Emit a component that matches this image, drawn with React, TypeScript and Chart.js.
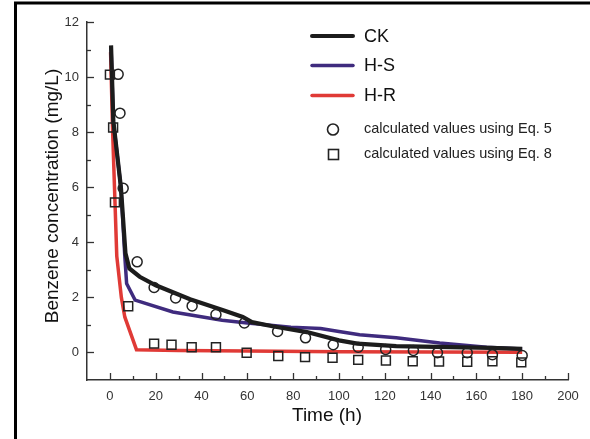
import React, { useEffect, useRef } from "react";
import { Chart, registerables } from "chart.js";

Chart.register(...registerables);

// ---- data ----
const ckTime = [0.5, 1.5, 4.8, 6.8, 8.5, 13, 20, 35, 49.5, 58, 62, 71, 86, 100, 108, 125, 166, 180];
const ckConc = [11.15, 8.4, 6.0, 3.6, 3.05, 2.75, 2.44, 1.93, 1.53, 1.29, 1.1, 0.95, 0.74, 0.44, 0.32, 0.23, 0.17, 0.13];

const hsTime = [0.5, 1.5, 4.8, 6.5, 7.3, 11, 27.5, 49, 60, 79, 92, 100, 109, 125, 144, 164.5, 180];
const hsConc = [11.1, 8.4, 6.0, 3.5, 2.5, 1.9, 1.47, 1.17, 1.07, 0.92, 0.87, 0.76, 0.64, 0.53, 0.34, 0.19, 0.13];

const hrTime = [0.3, 1.2, 2.2, 3.0, 5.0, 6.5, 11.6, 30, 60, 100, 180];
const hrConc = [10.9, 8.0, 5.5, 3.5, 2.0, 1.29, 0.1, 0.07, 0.05, 0.03, 0.01];

const eq5Time = [3.6, 4.4, 5.8, 11.9, 19.3, 28.7, 35.9, 46.3, 58.7, 73.2, 85.4, 97.5, 108.4, 120.4, 132.5, 143, 156, 167, 180];
const eq5Conc = [10.1, 8.69, 5.96, 3.29, 2.36, 1.98, 1.69, 1.38, 1.07, 0.76, 0.53, 0.28, 0.19, 0.11, 0.07, -0.01, -0.01, -0.08, -0.11];

const eq8Time = [0, 1.4, 2.2, 8, 19.3, 26.9, 35.7, 46.3, 59.7, 73.5, 85.2, 97.2, 108.4, 120.5, 132.2, 143.7, 156, 167, 179.6];
const eq8Conc = [10.09, 8.17, 5.45, 1.68, 0.32, 0.28, 0.19, 0.19, -0.01, -0.13, -0.17, -0.19, -0.27, -0.29, -0.32, -0.33, -0.34, -0.32, -0.36];

const xTicks = [0, 20, 40, 60, 80, 100, 120, 140, 160, 180, 200];
const xMinorTicks = [10, 30, 50, 70, 90, 110, 130, 150, 170, 190];
const yTicks = [0, 2, 4, 6, 8, 10, 12];
const yMinorTicks = [1, 3, 5, 7, 9, 11];

const legendLabels = ["CK", "H-S", "H-R", "calculated values using Eq. 5", "calculated values using Eq. 8"];

const BLACK = "#1c1c1c";
const PURPLE = "#3f2b7e";
const RED = "#e03a36";
const AXIS = "#333333";
const FONT = "'Liberation Sans', Arial, sans-serif";

const pts = (xs: number[], ys: number[]) => xs.map((x, i) => ({ x, y: ys[i] }));

const decorPlugin = {
  id: "decor",
  afterDraw(chart: any) {
    const ctx = chart.ctx as CanvasRenderingContext2D;
    const xs = chart.scales.x;
    const ys = chart.scales.y;
    const area = chart.chartArea;
    ctx.save();
    // inward ticks
    ctx.strokeStyle = AXIS;
    ctx.lineWidth = 1.3;
    const tickX = (v: number, len: number) => {
      const p = Math.round(xs.getPixelForValue(v)) + 0.5;
      ctx.beginPath();
      ctx.moveTo(p, area.bottom);
      ctx.lineTo(p, area.bottom - len);
      ctx.stroke();
    };
    const tickY = (v: number, len: number) => {
      const p = Math.round(ys.getPixelForValue(v)) + 0.5;
      ctx.beginPath();
      ctx.moveTo(area.left, p);
      ctx.lineTo(area.left + len, p);
      ctx.stroke();
    };
    xTicks.forEach((v) => tickX(v, 7));
    xMinorTicks.forEach((v) => tickX(v, 4));
    yTicks.forEach((v) => tickY(v, 7));
    yMinorTicks.forEach((v) => tickY(v, 4));

    // axis titles
    ctx.fillStyle = "#111";
    ctx.font = `19px ${FONT}`;
    ctx.textAlign = "center";
    ctx.textBaseline = "alphabetic";
    ctx.fillText("Time (h)", 327, 421);
    ctx.save();
    ctx.translate(58, 196);
    ctx.rotate(-Math.PI / 2);
    ctx.fillText("Benzene concentration (mg/L)", 0, 0);
    ctx.restore();

    // legend
    const lx1 = 312, lx2 = 353, tx = 364;
    const lineRows = [
      { y: 36, color: BLACK, w: 4 },
      { y: 65.5, color: PURPLE, w: 3.5 },
      { y: 95.5, color: RED, w: 3.5 },
    ];
    ctx.textAlign = "left";
    ctx.textBaseline = "middle";
    lineRows.forEach((r, i) => {
      ctx.strokeStyle = r.color;
      ctx.lineWidth = r.w;
      ctx.lineCap = "round";
      ctx.beginPath();
      ctx.moveTo(lx1, r.y);
      ctx.lineTo(lx2, r.y);
      ctx.stroke();
      ctx.fillStyle = "#111";
      ctx.font = `18px ${FONT}`;
      ctx.fillText(legendLabels[i], tx, r.y + 1);
    });
    ctx.lineCap = "butt";
    ctx.strokeStyle = "#222";
    ctx.lineWidth = 1.6;
    ctx.beginPath();
    ctx.arc(333, 129.5, 5.5, 0, Math.PI * 2);
    ctx.stroke();
    ctx.strokeRect(328.5, 149.5, 10, 10);
    ctx.font = `14.5px ${FONT}`;
    ctx.fillStyle = "#222";
    ctx.fillText(legendLabels[3], tx, 129);
    ctx.fillText(legendLabels[4], tx, 153.5);

    // outer frame
    ctx.strokeStyle = "#000";
    ctx.lineWidth = 3;
    ctx.beginPath();
    ctx.moveTo(15.5, 445);
    ctx.lineTo(15.5, 3);
    ctx.lineTo(600, 3);
    ctx.stroke();
    ctx.restore();
  },
};

export default function App() {
  const ref = useRef<HTMLCanvasElement | null>(null);
  useEffect(() => {
    document.body.style.margin = "0";
    const canvas = ref.current;
    if (!canvas) return;
    const chart = new Chart(canvas, {
      type: "scatter",
      data: {
        datasets: [
          {
            label: "H-R",
            data: pts(hrTime, hrConc),
            showLine: true,
            borderColor: RED,
            borderWidth: 3.5,
            pointRadius: 0,
            tension: 0,
            order: 3,
          },
          {
            label: "H-S",
            data: pts(hsTime, hsConc),
            showLine: true,
            borderColor: PURPLE,
            borderWidth: 3.5,
            pointRadius: 0,
            tension: 0,
            order: 2,
          },
          {
            label: "CK",
            data: pts(ckTime, ckConc),
            showLine: true,
            borderColor: BLACK,
            borderWidth: 4.2,
            pointRadius: 0,
            tension: 0,
            order: 1,
          },
          {
            label: "Eq. 5",
            data: pts(eq5Time, eq5Conc),
            showLine: false,
            pointStyle: "circle",
            pointRadius: 5,
            pointBorderWidth: 1.5,
            pointBorderColor: "#222",
            pointBackgroundColor: "rgba(0,0,0,0)",
            order: 0,
          },
          {
            label: "Eq. 8",
            data: pts(eq8Time, eq8Conc),
            showLine: false,
            pointStyle: "rect",
            pointRadius: 6.3,
            pointBorderWidth: 1.5,
            pointBorderColor: "#222",
            pointBackgroundColor: "rgba(0,0,0,0)",
            order: 0,
          },
        ],
      },
      options: {
        animation: false,
        responsive: false,
        maintainAspectRatio: false,
        events: [],
        layout: { padding: { left: 0, top: 22, right: 22, bottom: 0 } },
        plugins: {
          legend: { display: false },
          tooltip: { enabled: false },
          title: { display: false },
        },
        scales: {
          x: {
            type: "linear",
            min: -10,
            max: 200,
            afterBuildTicks: (s: any) => {
              s.ticks = xTicks.map((v) => ({ value: v }));
            },
            afterFit: (s: any) => {
              s.height = 59;
            },
            grid: { display: false, drawTicks: false },
            border: { display: true, color: AXIS, width: 1.5 },
            ticks: {
              color: "#333",
              font: { family: FONT, size: 13 },
              padding: 9,
              maxRotation: 0,
              autoSkip: false,
            },
          },
          y: {
            type: "linear",
            min: -1,
            max: 12,
            afterBuildTicks: (s: any) => {
              s.ticks = yTicks.map((v) => ({ value: v }));
            },
            afterFit: (s: any) => {
              s.width = 87;
            },
            grid: { display: false, drawTicks: false },
            border: { display: true, color: AXIS, width: 1.5 },
            ticks: {
              color: "#333",
              font: { family: FONT, size: 13 },
              padding: 8,
              autoSkip: false,
            },
          },
        },
      },
      plugins: [decorPlugin],
    } as any);
    return () => chart.destroy();
  }, []);
  return (
    <div style={{ width: 590, height: 439, background: "#fff" }}>
      <canvas ref={ref} width={590} height={439} style={{ display: "block", width: 590, height: 439 }} />
    </div>
  );
}
